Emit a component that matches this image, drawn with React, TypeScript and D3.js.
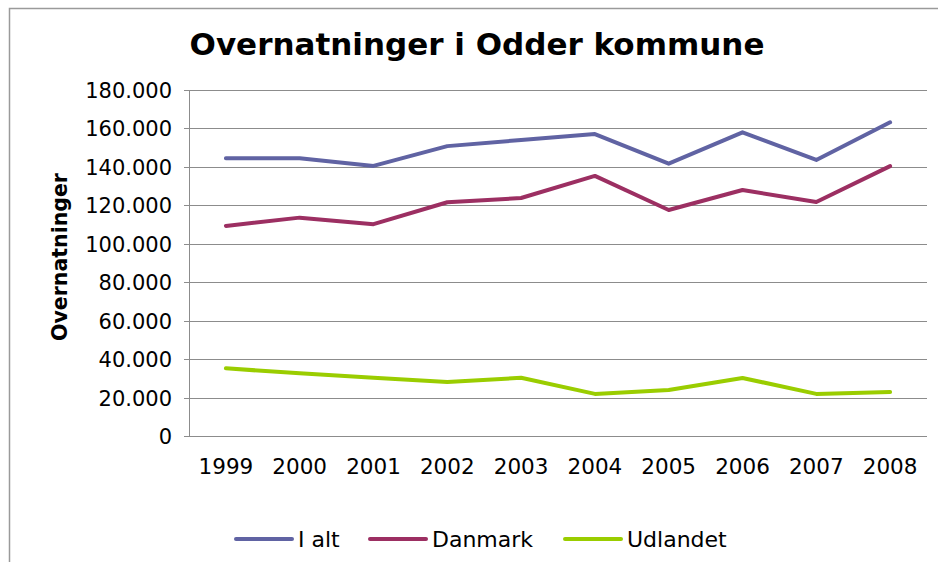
import React from "react";
import * as d3 from "d3";

const years = ["1999", "2000", "2001", "2002", "2003", "2004", "2005", "2006", "2007", "2008"];
const iAlt = [144500, 144500, 140500, 150800, 154000, 157100, 141700, 158000, 143600, 163200];
const danmark = [109300, 113600, 110200, 121600, 123800, 135300, 117600, 128000, 121700, 140400];
const udlandet = [35200, 32600, 30300, 28100, 30300, 21900, 23900, 30200, 21900, 22900];
const yTicks = [0, 20000, 40000, 60000, 80000, 100000, 120000, 140000, 160000, 180000];

const seriesNames = ["I alt", "Danmark", "Udlandet"];
const seriesColors = ["#6063a3", "#9c2f62", "#9acd00"];

const W = 938;
const H = 562;
const margin = { top: 90, right: 11, bottom: 126, left: 189 };
const font = "'DejaVu Sans', Verdana, sans-serif";

export default function App() {
  const width = W - margin.left - margin.right;
  const height = H - margin.top - margin.bottom;

  const x = d3.scaleBand().domain(years).range([0, width]);
  const y = d3.scaleLinear().domain([0, 180000]).range([height, 0]);
  const fmt = (v: number) => (v === 0 ? "0" : d3.format(",")(v).replace(/,/g, "."));

  const line = d3
    .line<number>()
    .x((d, i) => x(years[i])! + x.bandwidth() / 2)
    .y((d) => y(d));

  const allSeries = [iAlt, danmark, udlandet];
  // legend positions (line start x)
  const legendX = [236, 370, 565];

  return (
    <svg
      width={W}
      height={H}
      style={{ position: "fixed", left: 0, top: 0, background: "#fff" }}
    >
      <rect x={9.5} y={8.5} width={940} height={570} fill="#fff" stroke="#9a9a9a" strokeWidth={1.5} />

      <text x={477} y={55} textAnchor="middle" fontFamily={font} fontWeight="bold" fontSize={31} fill="#000">
        Overnatninger i Odder kommune
      </text>

      <text
        transform={`translate(67,${margin.top + 167}) rotate(-90)`}
        textAnchor="middle"
        fontFamily={font}
        fontWeight="bold"
        fontSize={20.5}
        fill="#000"
      >
        Overnatninger
      </text>

      <g transform={`translate(${margin.left},${margin.top})`}>
        {yTicks.map((t) => (
          <g key={t}>
            <line x1={-5} x2={width} y1={Math.round(y(t)) + 0.5} y2={Math.round(y(t)) + 0.5} stroke="#8c8c8c" strokeWidth={1} />
            <text x={-17} y={y(t)} dy={8} textAnchor="end" fontFamily={font} fontSize={21} fill="#000">
              {fmt(t)}
            </text>
          </g>
        ))}
        <line x1={0.5} x2={0.5} y1={0} y2={height} stroke="#8c8c8c" strokeWidth={1} />

        {years.map((yr) => (
          <text
            key={yr}
            x={x(yr)! + x.bandwidth() / 2}
            y={height + 38}
            textAnchor="middle"
            fontFamily={font}
            fontSize={21.5}
            fill="#000"
          >
            {yr}
          </text>
        ))}

        {allSeries.map((s, i) => (
          <path
            key={seriesNames[i]}
            d={line(s) || ""}
            fill="none"
            stroke={seriesColors[i]}
            strokeWidth={4}
            strokeLinejoin="round"
            strokeLinecap="round"
          />
        ))}
      </g>

      {seriesNames.map((name, i) => (
        <g key={name} transform={`translate(${legendX[i]},539)`}>
          <line x1={0} x2={56} y1={0} y2={0} stroke={seriesColors[i]} strokeWidth={4} strokeLinecap="round" />
          <text x={62} y={7.5} fontFamily={font} fontSize={22} fill="#000">
            {name}
          </text>
        </g>
      ))}
    </svg>
  );
}
